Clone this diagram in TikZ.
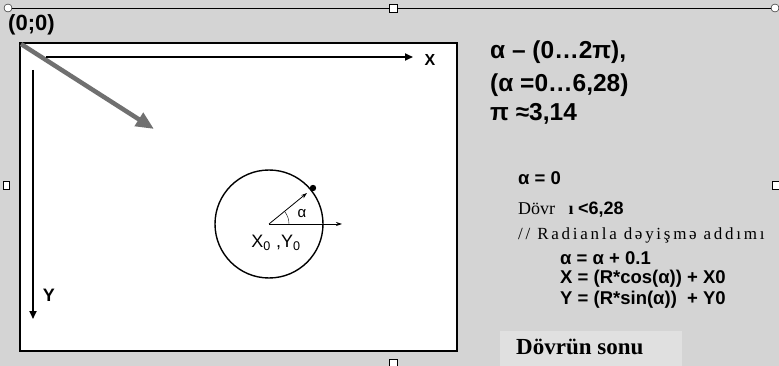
\documentclass[tikz,border=0pt]{standalone}
\usepackage{fontspec}
\setmainfont{Liberation Serif}
\setsansfont{Liberation Sans}
\definecolor{scrgray}{RGB}{212,212,212}
\definecolor{boxgray}{RGB}{224,224,224}
\definecolor{ptrgray}{RGB}{112,112,112}
\usetikzlibrary{arrows.meta,positioning}

\begin{document}
\begin{tikzpicture}[x=1pt,y=-1pt,
  lbl/.style={font=\sffamily\bfseries\fontsize{24.5}{27}\selectfont,inner sep=0pt,anchor=west},
  code/.style={font=\sffamily\bfseries\fontsize{18.5}{20}\selectfont,inner sep=0pt,anchor=west},
  rmtxt/.style={font=\rmfamily\fontsize{18}{20}\selectfont,inner sep=0pt,anchor=west},
  axis/.style={-{Triangle[length=8pt,width=7pt]},line width=1.8pt},
  arr/.style={-{Stealth[length=6pt,width=4pt]},line width=0.8pt},
  handle/.style={draw,thin,fill=white}
]
  \useasboundingbox (0,0) rectangle (779,366);
  \fill[scrgray] (0,0) rectangle (779,366);

  % Frame handles
  \draw[thin] (8,8) -- (775,8);
  \draw[handle] (389,4) rectangle (397,12);
  \draw[handle] (389,359) rectangle (397,366);
  \draw[handle] (8,8) circle (4pt);
  \draw[handle] (775,8) circle (4pt);
  \draw[handle] (3,181) rectangle (9,189);
  \draw[handle] (772,181) rectangle (779,189);

  % Screen
  \draw[line width=2.5pt,fill=white] (20,43) rectangle (457,351);
  \node[font=\sffamily\bfseries\fontsize{22}{24}\selectfont,inner sep=0pt,anchor=west] (orig) at (8,25) {(0;0)};
  \coordinate (o) at (21,44);
  \coordinate (ptr) at (154,129);
  \draw[-{Triangle[length=18pt,width=15pt]},line width=4.5pt,ptrgray] (o) -- (ptr);

  % Axes
  \coordinate (xs) at (46,57);
  \coordinate (xe) at (413,57);
  \coordinate (ys) at (33,70);
  \coordinate (ye) at (33,319);
  \draw[axis] (xs) -- (xe);
  \draw[axis] (ys) -- (ye);
  \node[font=\sffamily\bfseries\fontsize{16}{18}\selectfont] (xl) at (430,60) {X};
  \node[font=\sffamily\bfseries\fontsize{18}{20}\selectfont] (yl) at (49,295) {Y};

  % Circle
  \coordinate (c) at (269,224);
  \coordinate (rad) at (307,193);
  \coordinate (hor) at (342,224);
  \draw[line width=1.4pt] (c) circle (54pt);
  \draw[arr] (c) -- (rad);
  \draw[arr] (c) -- (hor);
  \fill (313,188) circle (3.2pt);
  \draw[thin] (c) ++(20,0) arc[start angle=0,end angle=-38,radius=20];
  \node[font=\sffamily\fontsize{15}{17}\selectfont] (alpha) at (302,214) {α};
  \node[font=\sffamily\fontsize{18}{20}\selectfont] (ctr) at (276,243) {X\textsubscript{0} ,Y\textsubscript{0}};

  % Range
  \node[lbl] (rng) at (490,52) {α – (0…2π),};
  \node[lbl] (deg) at (490,85) {(α =0…6,28)};
  \node[lbl] (pi) at (490,114) {π ≈3,14};

  % Loop
  \node[code] (init) at (518,178) {α = 0};
  \node[rmtxt] (loop) at (518,210) {Dövr\ \ \ \textbf{ı} \textsf{\textbf{\fontsize{18}{20}\selectfont<6,28}}};
  \node[rmtxt,font=\rmfamily\fontsize{17}{19}\selectfont\addfontfeature{LetterSpace=16}] (cmt) at (518,235) {// Radianla dəyişmə addımı};
  \node[code] (step) at (560,258) {α = α + 0.1};
  \node[code] (xeq) at (560,279) {X = (R*cos(α)) + X0};
  \node[code] (yeq) at (560,300) {Y = (R*sin(α))\ \ + Y0};
  \fill[boxgray] (500,331) rectangle (682,366);
  \node[rmtxt,font=\rmfamily\bfseries\fontsize{23}{25}\selectfont] (end) at (516,347) {Dövrün sonu};
\end{tikzpicture}
\end{document}
